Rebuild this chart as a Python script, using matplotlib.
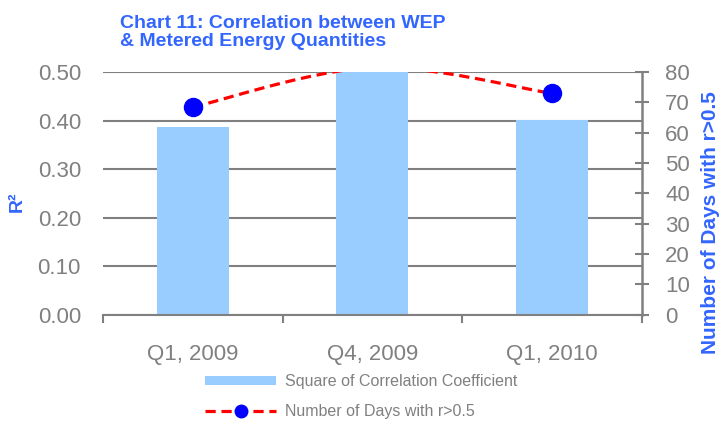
import numpy as np
import matplotlib
matplotlib.use("Agg")
import matplotlib.pyplot as plt
from matplotlib.patches import Rectangle
from matplotlib.lines import Line2D

categories = ["Q1, 2009", "Q4, 2009", "Q1, 2010"]
r_squared = [0.387, 0.50, 0.401]
days_r_gt_05 = [68.5, 81.5, 73]
left_ticks = [0.0, 0.1, 0.2, 0.3, 0.4, 0.5]
right_ticks = list(range(0, 81, 10))

GRAY = "#808080"
BLUE_TXT = "#3366FF"
BAR = "#99CCFF"

plt.rcParams["font.family"] = ["Liberation Sans", "DejaVu Sans"]

fig = plt.figure(figsize=(7.21, 4.22), dpi=100)
ax = fig.add_axes([0.143, 0.254, 0.747, 0.575])
ax2 = ax.twinx()

x = np.arange(len(categories))
ax.bar(x, r_squared, width=0.4, color=BAR, zorder=2)
ax.set_xlim(-0.5, len(categories) - 0.5)
ax.set_ylim(0, 0.5)
ax.set_yticks(left_ticks)
ax.set_yticklabels([f"{v:.2f}" for v in left_ticks])
ax.yaxis.grid(True, color=GRAY, linewidth=1.5, zorder=0)
ax.set_axisbelow(True)
for s in ["top", "left", "right"]:
    ax.spines[s].set_visible(False)
ax.spines["bottom"].set_color(GRAY)
ax.spines["bottom"].set_linewidth(1.5)
ax.tick_params(axis="y", length=0, labelsize=16, labelcolor=GRAY, pad=16)
ax.set_xticks(x)
ax.set_xticklabels(categories)
ax.tick_params(axis="x", which="major", length=0, labelsize=16, labelcolor=GRAY, pad=21)
ax.set_xticks(np.arange(-0.5, len(categories)), minor=True)
ax.tick_params(axis="x", which="minor", length=6, width=1.5, color=GRAY, direction="out")
ax.set_ylabel("R²", color=BLUE_TXT, fontsize=14, fontweight="bold")
ax.yaxis.set_label_coords(-0.144, 0.465)

# smoothed curve (Excel-like Bezier through data points)
px = x.astype(float)
py = np.array(days_r_gt_05, dtype=float)
P = np.column_stack([px, py])
curve = []
n = len(P)
for i in range(n - 1):
    p0 = P[i - 1] if i > 0 else P[i]
    p1 = P[i]
    p2 = P[i + 1]
    p3 = P[i + 2] if i + 2 < n else P[i + 1]
    c1 = p1 + (p2 - p0) / 6.0
    c2 = p2 - (p3 - p1) / 6.0
    t = np.linspace(0, 1, 60)[:, None]
    seg = ((1 - t) ** 3) * p1 + 3 * ((1 - t) ** 2) * t * c1 + 3 * (1 - t) * t ** 2 * c2 + t ** 3 * p2
    curve.append(seg)
curve = np.vstack(curve)
ax2.plot(curve[:, 0], curve[:, 1], color="#FF0000", linewidth=2.3, linestyle=(0, (3.2, 1.8)), zorder=3)
ax2.set_ylim(0, 80)
shown = np.ma.masked_greater(py, 80)
ax2.plot(px, shown, linestyle="none", marker="o", markersize=13, color="#0000FF", zorder=4)
ax2.set_yticks(right_ticks)
for s in ["top", "left", "bottom"]:
    ax2.spines[s].set_visible(False)
ax2.spines["right"].set_color(GRAY)
ax2.spines["right"].set_linewidth(1.8)
ax2.tick_params(axis="y", direction="inout", length=10, width=1.5, color=GRAY,
                labelsize=16, labelcolor=GRAY, pad=12)
ax2.set_ylabel("Number of Days with r>0.5", color=BLUE_TXT, fontsize=15,
               fontweight="bold")
ax2.yaxis.set_label_coords(1.111, 0.38)

fig.text(0.166, 0.965, "Chart 11: Correlation between WEP\n& Metered Energy Quantities",
         color=BLUE_TXT, fontsize=14, fontweight="bold", ha="left", va="top",
         linespacing=1.1)

h1 = Rectangle((0, 0), 1, 1, facecolor=BAR, edgecolor="none")
h2 = Line2D([], [], color="#FF0000", linewidth=2.3, linestyle=(0, (3.2, 1.8)),
            marker="o", markersize=9, markerfacecolor="#0000FF", markeredgecolor="#0000FF")
leg = fig.legend([h1, h2], ["Square of Correlation Coefficient", "Number of Days with r>0.5"],
                 loc="upper left", bbox_to_anchor=(0.285, 0.113), frameon=False,
                 fontsize=11.5, handlelength=4.4, handleheight=0.45, handletextpad=0.55,
                 labelspacing=0.95, borderaxespad=0, borderpad=0)
for t in leg.get_texts():
    t.set_color(GRAY)

fig.savefig("out.png", dpi=100)
